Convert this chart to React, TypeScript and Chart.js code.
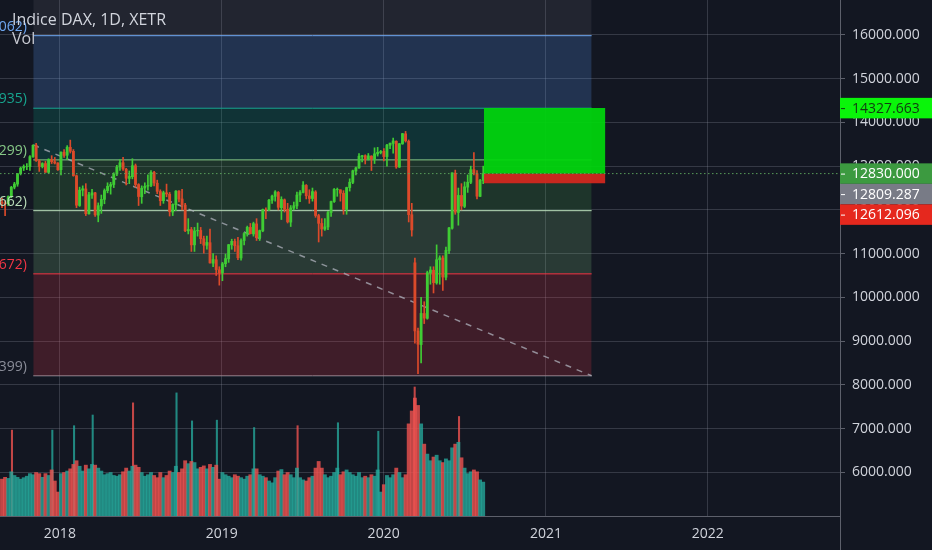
import { useEffect, useRef } from "react";
import { Chart, registerables } from "chart.js";

Chart.register(...registerables);

// ---------- data (weekly bars, DAX, XETR) ----------
const weeks: string[] = [
  "2017-08-21","2017-08-28","2017-09-04","2017-09-11","2017-09-18","2017-09-25","2017-10-02","2017-10-09","2017-10-16","2017-10-23",
  "2017-10-30","2017-11-06","2017-11-13","2017-11-20","2017-11-27","2017-12-04","2017-12-11","2017-12-18","2017-12-25",
  "2018-01-01","2018-01-08","2018-01-15","2018-01-22","2018-01-29","2018-02-05","2018-02-12","2018-02-19","2018-02-26","2018-03-05",
  "2018-03-12","2018-03-19","2018-03-26","2018-04-02","2018-04-09","2018-04-16","2018-04-23","2018-04-30","2018-05-07","2018-05-14",
  "2018-05-21","2018-05-28","2018-06-04","2018-06-11","2018-06-18","2018-06-25","2018-07-02","2018-07-09","2018-07-16","2018-07-23",
  "2018-07-30","2018-08-06","2018-08-13","2018-08-20","2018-08-27","2018-09-03","2018-09-10","2018-09-17","2018-09-24","2018-10-01",
  "2018-10-08","2018-10-15","2018-10-22","2018-10-29","2018-11-05","2018-11-12","2018-11-19","2018-11-26","2018-12-03","2018-12-10",
  "2018-12-17","2018-12-24","2018-12-31",
  "2019-01-07","2019-01-14","2019-01-21","2019-01-28","2019-02-04","2019-02-11","2019-02-18","2019-02-25","2019-03-04","2019-03-11",
  "2019-03-18","2019-03-25","2019-04-01","2019-04-08","2019-04-15","2019-04-22","2019-04-29","2019-05-06","2019-05-13","2019-05-20",
  "2019-05-27","2019-06-03","2019-06-10","2019-06-17","2019-06-24","2019-07-01","2019-07-08","2019-07-15","2019-07-22","2019-07-29",
  "2019-08-05","2019-08-12","2019-08-19","2019-08-26","2019-09-02","2019-09-09","2019-09-16","2019-09-23","2019-09-30","2019-10-07",
  "2019-10-14","2019-10-21","2019-10-28","2019-11-04","2019-11-11","2019-11-18","2019-11-25","2019-12-02","2019-12-09","2019-12-16",
  "2019-12-23","2019-12-30",
  "2020-01-06","2020-01-13","2020-01-20","2020-01-27","2020-02-03","2020-02-10","2020-02-17","2020-02-24","2020-03-02","2020-03-09",
  "2020-03-16","2020-03-23","2020-03-30","2020-04-06","2020-04-13","2020-04-20","2020-04-27","2020-05-04","2020-05-11","2020-05-18",
  "2020-05-25","2020-06-01","2020-06-08","2020-06-15","2020-06-22","2020-06-29","2020-07-06","2020-07-13","2020-07-20","2020-07-27",
  "2020-08-03","2020-08-10",
];

const opens: number[] = [
  12170,12160,12140,12300,12520,12590,12830,12960,12990,12990,13220,13480,13120,12990,13060,12860,13150,13100,13070,
  12920,13320,13250,13430,13340,12780,12100,12450,12480,11910,12340,12390,11880,12090,12240,12440,12540,12580,12820,12980,
  13080,12930,12720,12760,13010,12580,12300,12500,12540,12560,12860,12610,12420,12210,12390,12360,11950,12120,12430,12250,
  12110,11520,11550,11200,11520,11530,11340,11190,11250,10780,10860,10630,10560,
  10770,10880,11200,11280,11180,10900,11300,11450,11600,11450,11680,11360,11520,12000,12000,12220,12310,12400,12050,12230,
  12010,11720,12040,12090,12340,12400,12560,12320,12260,12410,11870,11690,11560,11610,11940,12190,12460,12460,12380,12010,
  12510,12630,12890,12960,13220,13240,13160,13230,13160,13280,13310,13340,
  13220,13480,13520,13570,12980,13510,13740,13570,11890,10790,9230,8920,9630,9520,10560,10620,
  10330,10860,10900,10460,11070,11580,12840,11940,12330,12080,12520,12630,12920,12830,12310,12670,
];
const highs: number[] = [
  12270,12200,12320,12540,12630,12830,12980,13030,13060,13240,13490,13525,13150,13080,13110,13170,13240,13200,13080,
  13330,13380,13470,13596,13380,12800,12520,12550,12600,12400,12470,12400,12160,12340,12480,12620,12630,12850,13020,13150,
  13204,12950,12890,13170,13050,12600,12550,12620,12800,12900,12880,12680,12460,12430,12590,12400,12140,12440,12440,12470,
  12150,11800,11600,11600,11700,11600,11400,11400,11560,11000,10950,10700,10800,
  10990,11210,11330,11330,11370,11340,11480,11630,11690,11720,11800,11540,12020,12050,12240,12340,12440,12420,12300,12250,
  12150,12100,12180,12410,12440,12650,12580,12460,12500,12440,11900,11800,11800,11970,12200,12490,12500,12460,12440,12520,
  12710,12910,12980,13290,13250,13260,13290,13240,13420,13430,13360,13400,
  13500,13530,13640,13580,13520,13750,13795,13600,12150,10900,9300,10000,9900,10600,10700,10700,
  11200,10950,10950,11150,11600,12850,12910,12500,12600,12640,12800,13000,13313,12900,12700,13000,
];
const lows: number[] = [
  12050,11870,12100,12280,12480,12540,12800,12900,12920,12900,13200,13110,12880,12960,12860,12840,13060,13050,12900,
  12800,13200,13150,13300,12770,12050,12080,12320,11870,11900,12260,11850,11727,11920,12140,12390,12360,12510,12780,12900,
  12900,12570,12600,12710,12520,12100,12150,12370,12450,12530,12550,12370,12100,12150,12300,11860,11870,11980,12180,12000,
  11500,11450,11050,11050,11400,11230,11010,11100,10780,10700,10500,10279,10380,
  10700,10800,11100,11050,10860,10850,11200,11400,11450,11400,11300,11300,11500,11800,11980,12150,12200,12000,11780,11950,
  11700,11620,12000,12030,12190,12390,12250,12150,12200,11830,11266,11400,11530,11550,11850,12170,12310,12200,11900,11900,
  12430,12600,12800,12950,13100,13050,13140,12900,13060,13230,13280,13120,
  13000,13400,13300,12950,12970,13500,13550,11724,11400,8950,8255,8500,9400,9500,10300,10100,
  10300,10300,10160,10400,11000,11560,11900,11650,12000,12050,12400,12600,12800,12250,12300,12600,
];
const closes: number[] = [
  12168,12142,12304,12518,12592,12828,12955,12992,12991,13217,13478,13127,12994,13060,12861,13154,13103,13072,12918,
  13320,13245,13434,13340,12785,12107,12452,12483,11914,12346,12390,11886,12097,12241,12442,12540,12580,12820,12977,13077,
  12938,12724,12767,13011,12580,12306,12496,12541,12561,12860,12615,12424,12210,12394,12364,11959,12124,12430,12247,12111,
  11523,11553,11200,11519,11529,11341,11193,11257,10788,10866,10634,10559,10767,
  10887,11205,11282,11180,10906,11299,11457,11602,11458,11686,11364,11526,12010,11999,12222,12315,12412,12059,12239,12011,
  11727,12045,12096,12340,12399,12568,12323,12260,12419,11872,11693,11563,11612,11939,12191,12468,12468,12381,12012,12511,
  12633,12895,12961,13228,13242,13164,13236,13166,13282,13318,13337,13219,
  13483,13526,13577,12982,13514,13744,13579,11890,11541,9232,8929,9633,9525,10565,10626,10337,
  10861,10904,10465,11074,11587,12848,11949,12331,12089,12528,12633,12920,12838,12313,12674,12830,
];
// typical daily volume of each week
const volumes: number[] = [
  100,105,102,120,110,105,100,104,108,115,112,118,115,105,115,110,125,95,65,
  115,118,122,128,140,150,135,122,138,128,140,138,130,122,112,115,118,110,108,112,
  120,130,122,135,138,132,118,108,112,118,110,104,118,104,110,122,118,135,118,128,
  150,142,148,145,128,132,136,128,140,132,138,100,118,
  112,108,104,112,108,104,100,108,112,128,128,112,108,104,95,90,104,122,126,112,
  118,112,104,130,104,98,95,104,108,130,148,130,112,104,108,118,130,112,120,125,
  118,112,108,118,104,108,104,112,108,125,65,85,
  110,104,112,130,118,104,112,250,285,320,300,250,195,168,150,160,
  165,150,145,155,150,185,195,200,158,130,115,120,125,120,98,92,
];
// single-session volume spikes (quarterly expiries and sell-offs)
const peakDates: string[] = [
  "2017-09-15","2017-12-15","2018-02-02","2018-03-16","2018-06-15","2018-09-21","2018-10-26","2018-12-21",
  "2019-03-15","2019-06-21","2019-09-20","2019-12-20","2020-03-11","2020-06-19",
];
const peakVolumes: number[] = [233, 233, 245, 274, 307, 334, 258, 260, 240, 245, 253, 230, 350, 270];
const peakUp: boolean[] = [false, true, true, true, false, true, true, true, true, false, true, true, false, false];

const priceTicks: number[] = [6000, 7000, 8000, 9000, 10000, 11000, 12000, 13000, 14000, 15000, 16000];
const yearTicks: number[] = [2018, 2019, 2020, 2021, 2022];
const xRange: string[] = ["2017-08-19", "2022-10-26"];

// Fibonacci drawing
const fibLevels: number[] = [8206.399, 10537.672, 11982.662, 13143.299, 14324.935, 15984.062];
const fibRatios: string[] = ["0", "0.382", "0.618", "0.786", "1", "1.272"];
const fibSpan: string[] = ["2017-11-02", "2021-04-14"];
const trendPrices: number[] = [13486, 8206.399];

// Long position drawing
const longSpan: string[] = ["2020-08-14", "2021-05-15"];
const longEntry = 12830.0;
const longTarget = 14327.663;
const longStop = 12612.096;
const lastPrice = 12830.0;
const refPrice = 12809.287;
const axisMarks: number[] = [longTarget, lastPrice, refPrice, longStop];

// ---------- styles ----------
const BG = "#131722";
const TEXT = "#d1d4dc";
const GRID = "rgba(150,155,170,0.26)";
const BORDER = "#5d606b";
const FONT = "'Open Sans', 'Noto Sans', sans-serif";
const UP = "#3fcc34";
const DOWN = "#dc4a2a";
const VOL_UP = "rgba(38,166,154,0.8)";
const VOL_DOWN = "rgba(239,83,80,0.8)";
const fibLineColors = ["#8a8d98", "#f23645", "#b9dcb9", "#86c886", "#17a58f", "#6ea6f0"];
const fibFillColors = ["", "rgba(242,54,69,0.2)", "rgba(129,199,132,0.2)", "rgba(76,175,80,0.2)", "rgba(8,153,129,0.22)", "rgba(91,156,246,0.22)"];
const fibTopFill = "rgba(120,123,134,0.15)";
const markBg = ["#0af50a", "#3c9a40", "#787b86", "#e5281e"];
const markFg = ["#123a12", "#ffffff", "#ffffff", "#ffffff"];

function toX(iso: string): number {
  const [y, m, d] = iso.split("-").map(Number);
  return 1970 + Date.UTC(y, m - 1, d) / 86400000 / 365.25;
}
const MID_WEEK = 2.5 / 365.25;

export default function App() {
  const ref = useRef<HTMLCanvasElement>(null);

  useEffect(() => {
    const canvas = ref.current;
    if (!canvas) return;
    const xs = weeks.map((w) => toX(w) + MID_WEEK);
    const up = closes.map((c, i) => c >= opens[i]);
    const fs = toX(fibSpan[0]);
    const fe = toX(fibSpan[1]);
    const ls = toX(longSpan[0]);
    const le = toX(longSpan[1]);
    const xMin = toX(xRange[0]);
    const xMax = toX(xRange[1]);
    const seg = (x0: number, x1: number, y: number) => [
      { x: x0, y },
      { x: x1, y },
    ];
    const lineBase = { type: "line" as const, pointRadius: 0, tension: 0, yAxisID: "y" };

    const datasets: any[] = [];
    datasets.push({
      ...lineBase,
      data: seg(fs, fe, fibLevels[5]),
      borderWidth: 0,
      borderColor: "transparent",
      fill: "end",
      backgroundColor: fibTopFill,
      order: 21,
    });
    for (let i = 1; i < fibLevels.length; i++) {
      datasets.push({
        ...lineBase,
        data: seg(fs, fe, fibLevels[i]),
        borderColor: fibLineColors[i],
        borderWidth: 1,
        fill: { value: fibLevels[i - 1] },
        backgroundColor: fibFillColors[i],
        order: 20,
      });
    }
    datasets.push({
      ...lineBase,
      data: seg(fs, fe, fibLevels[0]),
      borderColor: fibLineColors[0],
      borderWidth: 1,
      fill: false,
      order: 20,
    });
    datasets.push({
      ...lineBase,
      data: [
        { x: fs, y: trendPrices[0] },
        { x: fe, y: trendPrices[1] },
      ],
      borderColor: "rgba(175,178,188,0.75)",
      borderWidth: 1.5,
      borderDash: [6, 6],
      fill: false,
      order: 15,
    });
    datasets.push({
      type: "bar",
      yAxisID: "yVol",
      data: xs.map((x, i) => ({ x, y: volumes[i] })),
      backgroundColor: up.map((u) => (u ? VOL_UP : VOL_DOWN)),
      barThickness: 3.2,
      grouped: false,
      borderWidth: 0,
      order: 14,
    });
    datasets.push({
      type: "bar",
      yAxisID: "yVol",
      data: peakDates.map((d, i) => ({ x: toX(d), y: peakVolumes[i] })),
      backgroundColor: peakUp.map((u) => (u ? VOL_UP : VOL_DOWN)),
      barThickness: 1.4,
      grouped: false,
      borderWidth: 0,
      order: 14,
    });
    datasets.push({
      type: "bar",
      yAxisID: "y",
      data: xs.map((x, i) => ({ x, y: [lows[i], highs[i]] })),
      backgroundColor: up.map((u) => (u ? UP : DOWN)),
      barThickness: 1,
      grouped: false,
      borderWidth: 0,
      order: 13,
    });
    datasets.push({
      type: "bar",
      yAxisID: "y",
      data: xs.map((x, i) => ({ x, y: [opens[i], closes[i]] })),
      backgroundColor: up.map((u) => (u ? UP : DOWN)),
      barThickness: 2.2,
      grouped: false,
      borderWidth: 0,
      order: 12,
    });
    datasets.push({
      ...lineBase,
      data: seg(ls, le, longTarget),
      borderWidth: 0,
      borderColor: "transparent",
      fill: { value: longEntry },
      backgroundColor: "rgba(0,214,12,0.93)",
      order: 11,
    });
    datasets.push({
      ...lineBase,
      data: seg(ls, le, longStop),
      borderWidth: 0,
      borderColor: "transparent",
      fill: { value: longEntry },
      backgroundColor: "rgba(212,40,30,0.93)",
      order: 11,
    });
    datasets.push({
      ...lineBase,
      data: seg(xMin, xMax, lastPrice),
      borderColor: "rgba(95,170,95,0.9)",
      borderWidth: 1,
      borderDash: [1.5, 2.5],
      fill: false,
      order: 10,
    });

    const bgPlugin = {
      id: "bgPlugin",
      beforeDraw(chart: any) {
        const { ctx, width, height } = chart;
        ctx.save();
        ctx.fillStyle = BG;
        ctx.fillRect(0, 0, width, height);
        ctx.restore();
      },
    };

    const overlayPlugin = {
      id: "overlayPlugin",
      afterDatasetsDraw(chart: any) {
        const { ctx } = chart;
        const yS = chart.scales.y;
        ctx.save();
        ctx.font = `14px ${FONT}`;
        ctx.textAlign = "right";
        ctx.textBaseline = "middle";
        fibLevels.forEach((lv, i) => {
          const py = yS.getPixelForValue(lv);
          ctx.fillStyle = fibLineColors[i];
          ctx.fillText(`${fibRatios[i]}(${lv.toFixed(3)})`, 27, py - 9);
        });
        ctx.restore();
      },
      afterDraw(chart: any) {
        const { ctx, chartArea, width, height } = chart;
        const yS = chart.scales.y;
        ctx.save();
        ctx.strokeStyle = BORDER;
        ctx.lineWidth = 1;
        ctx.beginPath();
        ctx.moveTo(chartArea.right + 0.5, chartArea.bottom);
        ctx.lineTo(chartArea.right + 0.5, height);
        ctx.stroke();

        ctx.textAlign = "left";
        ctx.textBaseline = "alphabetic";
        ctx.fillStyle = TEXT;
        ctx.font = `16px ${FONT}`;
        ctx.fillText("Indice DAX, 1D, XETR", 12, 25);
        ctx.fillStyle = "#c8cad2";
        ctx.fillText("Vol", 12, 44);

        const h = 20.5;
        const items = axisMarks
          .map((v, i) => ({ v, i }))
          .sort((a, b) => b.v - a.v);
        let prevBottom = -Infinity;
        ctx.font = `14px ${FONT}`;
        ctx.textBaseline = "middle";
        items.forEach(({ v, i }) => {
          let cy = yS.getPixelForValue(v);
          if (cy - h / 2 < prevBottom) cy = prevBottom + h / 2;
          prevBottom = cy + h / 2;
          ctx.fillStyle = markBg[i];
          ctx.fillRect(chartArea.right, cy - h / 2, width - chartArea.right, h);
          ctx.strokeStyle = markFg[i];
          ctx.beginPath();
          ctx.moveTo(chartArea.right + 1, cy + 0.5);
          ctx.lineTo(chartArea.right + 5, cy + 0.5);
          ctx.stroke();
          ctx.fillStyle = markFg[i];
          ctx.fillText(v.toFixed(3), chartArea.right + 12, cy + 0.5);
        });
        ctx.restore();
      },
    };

    const chart = new Chart(canvas, {
      type: "bar",
      data: { datasets },
      options: {
        animation: false,
        responsive: false,
        devicePixelRatio: 1,
        events: [],
        layout: { padding: 0 },
        plugins: {
          legend: { display: false },
          tooltip: { enabled: false },
          title: { display: false },
        },
        scales: {
          x: {
            type: "linear",
            min: xMin,
            max: xMax,
            bounds: "data",
            offset: false,
            afterBuildTicks: (s: any) => {
              s.ticks = yearTicks.map((yr) => ({ value: toX(`${yr}-01-01`) }));
            },
            afterFit: (s: any) => {
              s.height = 34;
              s.paddingLeft = 0;
              s.paddingRight = 0;
            },
            ticks: {
              color: TEXT,
              font: { family: FONT, size: 14 },
              padding: 10,
              autoSkip: false,
              maxRotation: 0,
              callback: (_v: any, i: number) => String(yearTicks[i]),
            },
            grid: { color: GRID, drawTicks: false, offset: false },
            border: { display: true, color: BORDER },
          },
          y: {
            type: "linear",
            position: "right",
            min: 5000,
            max: 16800,
            bounds: "data",
            afterBuildTicks: (s: any) => {
              s.ticks = priceTicks.map((v) => ({ value: v }));
            },
            afterFit: (s: any) => {
              s.width = 92;
              s.paddingTop = 0;
              s.paddingBottom = 0;
            },
            ticks: {
              color: TEXT,
              font: { family: FONT, size: 14 },
              padding: 7,
              autoSkip: false,
              callback: (v: any) => Number(v).toFixed(3),
            },
            grid: { color: GRID, tickLength: 5, tickColor: BORDER, drawTicks: true },
            border: { display: true, color: BORDER },
          },
          yVol: {
            type: "linear",
            display: false,
            min: 0,
            max: 1400,
          },
        },
      } as any,
      plugins: [bgPlugin, overlayPlugin],
    });
    return () => chart.destroy();
  }, []);

  return (
    <div style={{ position: "fixed", left: 0, top: 0, width: 932, height: 550, background: BG }}>
      <canvas ref={ref} width={932} height={550} style={{ display: "block", width: 932, height: 550 }} />
    </div>
  );
}
